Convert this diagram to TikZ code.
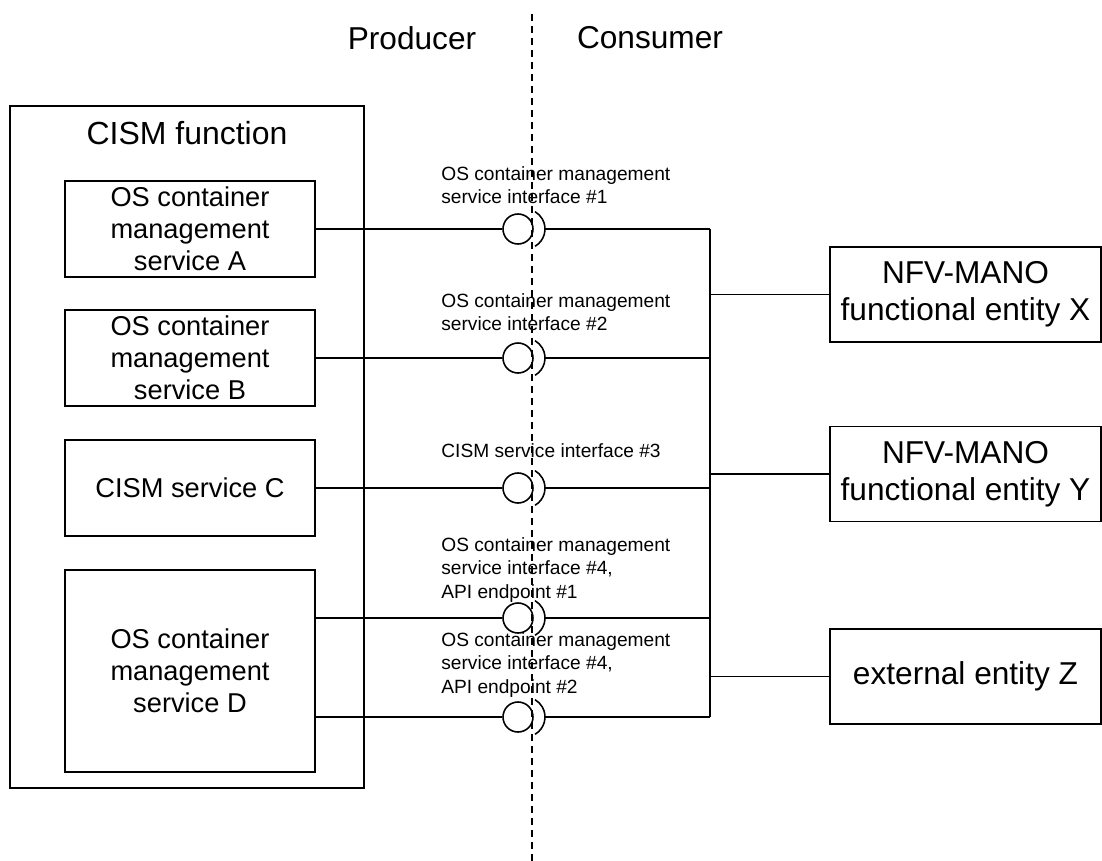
\documentclass[tikz,border=0pt]{standalone}
\usepackage{fontspec}
\setmainfont{Liberation Sans}

\tikzset{
  svcbox/.style={draw, line width=0.9pt, align=center, inner sep=0pt,
    minimum width=50mm, minimum height=19.2mm,
    font=\fontsize{15.5}{18.2}\selectfont},
  entbox/.style={draw, line width=0.9pt, align=center, inner sep=0pt,
    minimum width=54.2mm, minimum height=19mm,
    font=\fontsize{18}{21}\selectfont},
  ball/.style={circle, draw, line width=0.9pt, inner sep=0pt, minimum size=6mm},
  iflabel/.style={anchor=north west, inner sep=0pt, align=left,
    font=\fontsize{10.9}{13.4}\selectfont},
  link/.style={line width=0.9pt},
}

\begin{document}
\begin{tikzpicture}[x=0.2mm, y=-0.2mm]
    \useasboundingbox (0,0) rectangle (1102,861);

    % producer side
    \node[draw, line width=0.9pt, minimum width=70.8mm, minimum height=136.4mm] (cism) at (187,447) {};
    \node[font=\fontsize{18.2}{21}\selectfont] (cismtitle) at (187,133) {CISM function};
    \node[svcbox] (svcA) at (190,229) {OS container\\management\\service A};
    \node[svcbox] (svcB) at (190,358) {OS container\\management\\service B};
    \node[svcbox] (svcC) at (190,488) {CISM service C};
    \node[svcbox, minimum height=40.4mm] (svcD) at (190,671) {OS container\\management\\service D};

    % consumer side
    \node[entbox] (entX) at (965.5,294.5) {NFV-MANO\\functional entity X};
    \node[entbox] (entY) at (965.5,474) {NFV-MANO\\functional entity Y};
    \node[entbox] (entZ) at (965.5,676.5) {external entity Z};

    \node[font=\fontsize{18}{21}\selectfont] (prod) at (412,38) {Producer};
    \node[font=\fontsize{18}{21}\selectfont] (cons) at (650,38) {Consumer};

    % interfaces
    \node[ball] (b1) at (518,229) {};
    \node[ball] (b2) at (518,358) {};
    \node[ball] (b3) at (518,488) {};
    \node[ball] (b4) at (518,618) {};
    \node[ball] (b5) at (518,717) {};
    \coordinate (k1) at (525,229);
    \coordinate (k2) at (525,358);
    \coordinate (k3) at (525,488);
    \coordinate (k4) at (525,618);
    \coordinate (k5) at (525,717);
    \coordinate (j1) at (710,229);
    \coordinate (j2) at (710,358);
    \coordinate (j3) at (710,488);
    \coordinate (j4) at (710,618);
    \coordinate (j5) at (710,717);

    \node[iflabel] (lab1) at (441,166) {OS container management\\service interface \#1};
    \node[iflabel] (lab2) at (441,293) {OS container management\\service interface \#2};
    \node[iflabel] (lab3) at (441,443) {CISM service interface \#3};
    \node[iflabel] (lab4) at (441,537) {OS container management\\service interface \#4,\\API endpoint \#1};
    \node[iflabel] (lab5) at (441,632) {OS container management\\service interface \#4,\\API endpoint \#2};

    % sockets
    \draw[link] ([shift={(2mm,-3.46mm)}]k1) arc[start angle=-60, end angle=60, radius=4mm];
    \draw[link] ([shift={(2mm,-3.46mm)}]k2) arc[start angle=-60, end angle=60, radius=4mm];
    \draw[link] ([shift={(2mm,-3.46mm)}]k3) arc[start angle=-60, end angle=60, radius=4mm];
    \draw[link] ([shift={(2mm,-3.46mm)}]k4) arc[start angle=-60, end angle=60, radius=4mm];
    \draw[link] ([shift={(2mm,-3.46mm)}]k5) arc[start angle=-60, end angle=60, radius=4mm];

    % lines
    \draw[link] (svcA) -- (b1);
    \draw[link] (svcB) -- (b2);
    \draw[link] (svcC) -- (b3);
    \draw[link] (svcD.east |- b4) -- (b4);
    \draw[link] (svcD.east |- b5) -- (b5);
    \draw[link] ([xshift=4mm]k1) -- (j1);
    \draw[link] ([xshift=4mm]k2) -- (j2);
    \draw[link] ([xshift=4mm]k3) -- (j3);
    \draw[link] ([xshift=4mm]k4) -- (j4);
    \draw[link] ([xshift=4mm]k5) -- (j5);
    \draw[link] (j1) -- (j5);
    \draw[link] (j1 |- entX) -- (entX);
    \draw[link] (j1 |- entY) -- (entY);
    \draw[link] (j1 |- entZ) -- (entZ);

    % border line
    \coordinate (dtop) at (532,14);
    \coordinate (dbot) at (532,861);
    \draw[line width=0.7pt, dash pattern=on 1.4mm off 1mm] (dtop) -- (dbot);

\end{tikzpicture}
\end{document}
